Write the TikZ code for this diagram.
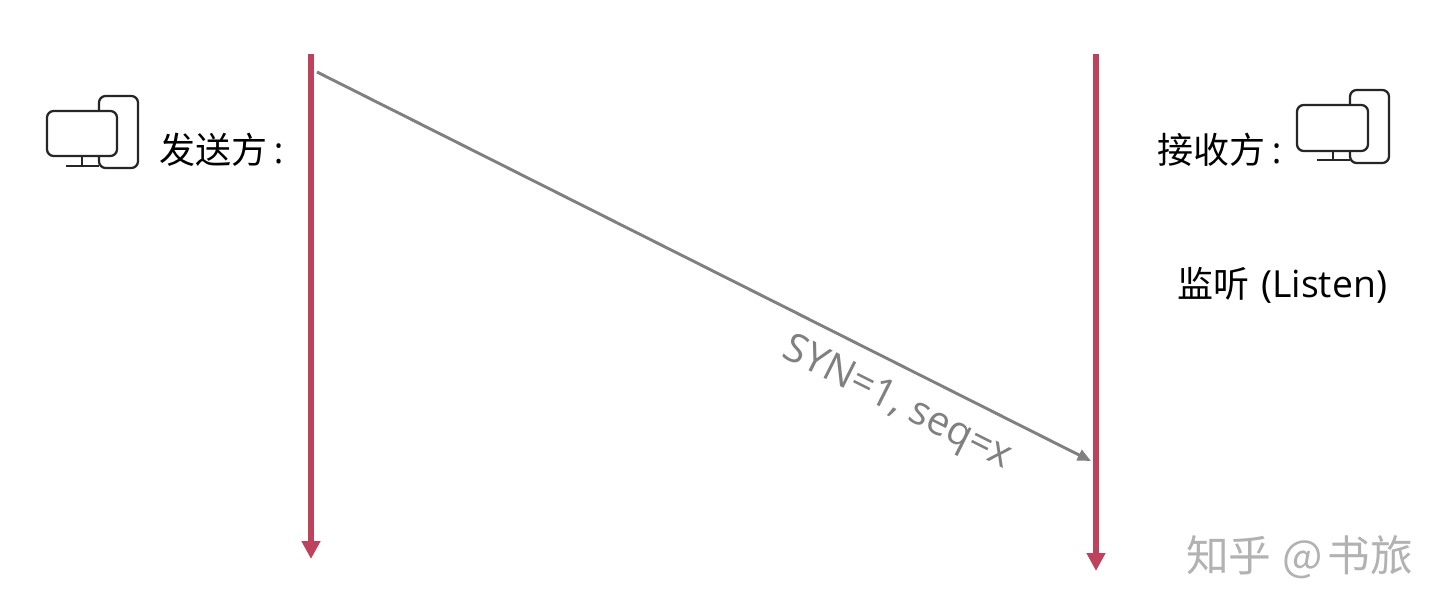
\documentclass[tikz,border=0pt]{standalone}
\usepackage{fontspec}
\setmainfont{Open Sans}
\newfontfamily\cjk{Noto Sans CJK SC}
\usetikzlibrary{arrows.meta}
\definecolor{lifeline}{RGB}{190,66,92}
\definecolor{msg}{RGB}{128,128,128}
\definecolor{ink}{RGB}{38,38,38}
\definecolor{mark}{RGB}{178,178,178}
\tikzset{
  px/.style={x=0.75pt,y=-0.75pt},
  lifelinearrow/.style={draw=lifeline,line width=4.5pt,-{Triangle[length=13.5pt,width=13.5pt,fill=lifeline]}},
  msgarrow/.style={draw=msg,line width=2.2pt,-{Triangle[length=10pt,width=8.5pt]}},
  icon/.style={draw=ink,line width=1.7pt,rounded corners=5pt},
  iconstem/.style={draw=ink,line width=1.7pt},
  lab/.style={inner sep=0pt,text=black,font=\fontsize{27pt}{30pt}\selectfont},
  msglabel/.style={inner sep=0pt,text=msg,font=\fontsize{30pt}{33pt}\selectfont,rotate=-26.7},
  watermark/.style={inner sep=0pt,text=mark,font=\cjk\fontsize{32pt}{35pt}\selectfont}
}
\begin{document}
\begin{tikzpicture}[px]
\useasboundingbox (0,0) rectangle (1452,616);
\fill[white] (0,0) rectangle (1452,616);
% lifelines
\coordinate (stop) at (311,54);
\coordinate (sbot) at (311,559);
\coordinate (rtop) at (1096,54);
\coordinate (rbot) at (1096,571);
\draw[lifelinearrow] (stop) -- (sbot);
\draw[lifelinearrow] (rtop) -- (rbot);
% message
\coordinate (mfrom) at (317,72);
\coordinate (mto) at (1091,461);
\draw[msgarrow] (mfrom) -- (mto);
\node[msglabel] (mlabel) at (897,404) {SYN=1, seq=x};
% left icon
\draw[icon] (99,111) -- (99,96) -- (138,96) -- (138,168) -- (99,168) -- (99,156);
\draw[icon] (47,111) rectangle (117,156);
\draw[iconstem] (82,156) -- (82,166);
\draw[iconstem] (66,166) -- (99,166);
% right icon
\draw[icon] (1350,105) -- (1350,90) -- (1389,90) -- (1389,163) -- (1350,163) -- (1350,151);
\draw[icon] (1297,105) rectangle (1368,151);
\draw[iconstem] (1333,151) -- (1333,160);
\draw[iconstem] (1317,160) -- (1350,160);
% labels
\node[lab,anchor=west] (sender) at (159,150) {{\cjk 发送方}\hspace{5pt}:};
\node[lab,anchor=west] (receiver) at (1157,150) {{\cjk 接收方}\hspace{5pt}:};
\node[lab,anchor=west] (listen) at (1177,285) {{\cjk 监听}\hspace{9pt}\fontsize{28pt}{30pt}\selectfont(Listen)};
\node[watermark,anchor=west] (wm) at (1186,557) {知乎\hspace{8pt}@\hspace{4pt}书旅};
\end{tikzpicture}
\end{document}
